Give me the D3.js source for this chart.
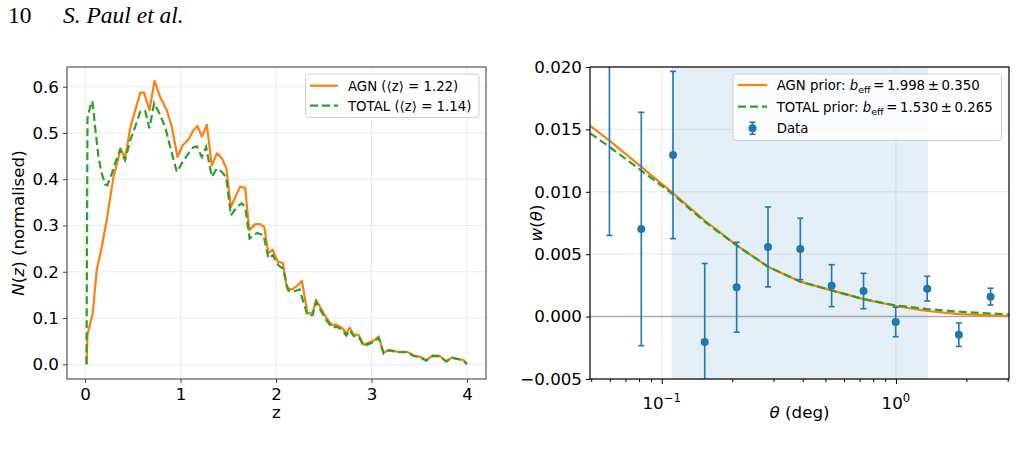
<!DOCTYPE html>
<html>
<head>
<meta charset="utf-8">
<script src="https://cdn.jsdelivr.net/npm/d3@7"></script>
<style>
  body { margin: 0; background: #fff; }
  text { font-family: "DejaVu Sans", sans-serif; }
</style>
</head>
<body>
<svg id="fig" width="1016" height="475"></svg>
<script>
// ---- left panel: redshift distributions ----
const zAgn = [0.015, 0.025, 0.08, 0.122, 0.175, 0.227, 0.297, 0.374, 0.419, 0.472, 0.577, 0.618, 0.674, 0.727,
  0.786, 0.856, 0.909, 0.968, 1.024, 1.083, 1.135, 1.177, 1.223, 1.275, 1.327, 1.38, 1.432, 1.478, 1.527, 1.583,
  1.625, 1.677, 1.72, 1.782, 1.834, 1.876, 1.92, 1.966, 2.016, 2.072, 2.113, 2.166, 2.219, 2.271, 2.33, 2.383,
  2.42, 2.48, 2.533, 2.585, 2.638, 2.69, 2.736, 2.77, 2.813, 2.866, 2.918, 2.97, 3.023, 3.075, 3.127, 3.18,
  3.232, 3.284, 3.372, 3.442, 3.51, 3.573, 3.643, 3.713, 3.783, 3.843, 3.913, 3.965, 4.0];
const nAgn = [0, 0.065, 0.11, 0.204, 0.254, 0.312, 0.405, 0.466, 0.445, 0.51, 0.587, 0.587, 0.549, 0.612,
  0.578, 0.549, 0.513, 0.448, 0.474, 0.486, 0.506, 0.515, 0.492, 0.518, 0.43, 0.456, 0.445, 0.425, 0.34, 0.366,
  0.384, 0.381, 0.29, 0.303, 0.303, 0.297, 0.24, 0.248, 0.222, 0.219, 0.164, 0.162, 0.169, 0.18, 0.11, 0.111,
  0.139, 0.117, 0.099, 0.085, 0.085, 0.079, 0.067, 0.079, 0.065, 0.063, 0.042, 0.047, 0.051, 0.06, 0.025, 0.031,
  0.029, 0.027, 0.027, 0.019, 0.016, 0.009, 0.019, 0.018, 0.006, 0.015, 0.011, 0.009, 0.0];

const zTot = [0.015, 0.025, 0.052, 0.077, 0.105, 0.14, 0.175, 0.21, 0.234, 0.28, 0.325, 0.367, 0.419, 0.472,
  0.524, 0.577, 0.629, 0.674, 0.723, 0.779, 0.839, 0.891, 0.961, 1.024, 1.083, 1.135, 1.17, 1.223, 1.268, 1.327,
  1.38, 1.432, 1.478, 1.527, 1.59, 1.64, 1.677, 1.723, 1.8, 1.87, 1.92, 1.966, 2.025, 2.072, 2.13, 2.183, 2.246,
  2.33, 2.383, 2.42, 2.48, 2.533, 2.585, 2.638, 2.69, 2.736, 2.77, 2.813, 2.866, 2.918, 2.97, 3.023, 3.075,
  3.127, 3.18, 3.232, 3.284, 3.372, 3.442, 3.51, 3.573, 3.643, 3.713, 3.783, 3.843, 3.913, 3.965, 4.0];
const nTot = [0, 0.531, 0.556, 0.569, 0.513, 0.448, 0.412, 0.389, 0.387, 0.412, 0.441, 0.464, 0.441, 0.484,
  0.513, 0.546, 0.548, 0.51, 0.564, 0.542, 0.513, 0.47, 0.416, 0.438, 0.456, 0.469, 0.471, 0.448, 0.47, 0.405,
  0.423, 0.416, 0.404, 0.322, 0.34, 0.348, 0.34, 0.272, 0.284, 0.279, 0.229, 0.236, 0.214, 0.207, 0.159, 0.157,
  0.162, 0.106, 0.106, 0.135, 0.112, 0.094, 0.08, 0.081, 0.075, 0.062, 0.074, 0.061, 0.06, 0.039, 0.044, 0.048,
  0.057, 0.023, 0.03, 0.028, 0.026, 0.026, 0.018, 0.015, 0.008, 0.018, 0.017, 0.006, 0.014, 0.011, 0.008, 0.0];

const zTicks = [0, 1, 2, 3, 4];
const nTicks = [0, 0.1, 0.2, 0.3, 0.4, 0.5, 0.6];

// ---- right panel: angular correlation ----
const theta = [0.0598, 0.0818, 0.1117, 0.1526, 0.2089, 0.2843, 0.3906, 0.5315, 0.7274, 0.998, 1.36, 1.857, 2.536];
const wData = [0.0245, 0.00702, 0.01295, -0.00204, 0.00235, 0.00558, 0.00542, 0.00248, 0.00205, -0.00043, 0.00224, -0.00145, 0.0016];
const wErr  = [0.018, 0.00935, 0.0067, 0.0063, 0.0036, 0.0032, 0.00246, 0.00168, 0.00142, 0.00118, 0.00099, 0.00094, 0.00067];

const thetaModel = [0.0494, 0.0598, 0.0818, 0.1117, 0.1526, 0.2089, 0.2843, 0.3906, 0.5315, 0.7274, 0.998, 1.36, 1.857, 2.536, 3.04];
const wAgn = [0.0153, 0.0141, 0.0120, 0.0099, 0.0077, 0.0057, 0.0040, 0.0028, 0.0021, 0.0014, 0.00085, 0.00045, 0.0002, 0.0001, 0.00005];
const wTot = [0.0147, 0.0136, 0.0117, 0.0098, 0.0076, 0.0057, 0.0040, 0.0028, 0.0021, 0.0014, 0.0009, 0.0006, 0.0004, 0.00025, 0.00018];

const fitRange = [0.11, 1.37];
const wTicks = [-0.005, 0, 0.005, 0.01, 0.015, 0.02];
const thetaMajor = [0.1, 1];

const orange = "#ff7f0e", green = "#2ca02c", blue = "#1f77b4";
const svg = d3.select("#fig");

// page header
svg.append("text").attr("x", 8).attr("y", 23)
    .style("font-family", "'Liberation Serif', serif").style("font-size", "23.5px").text("10");
svg.append("text").attr("x", 63).attr("y", 23)
    .style("font-family", "'Liberation Serif', serif").style("font-size", "23.5px").style("font-style", "italic")
    .text("S. Paul et al.");

// ================= left panel =================
const L = {x0: 67, x1: 486, y0: 67, y1: 379};
const x1 = d3.scaleLinear().domain([-0.1895, 4.1995]).range([L.x0, L.x1]);
const y1 = d3.scaleLinear().domain([-0.0318, 0.6426]).range([L.y1, L.y0]);

const gl = svg.append("g");
gl.append("clipPath").attr("id", "clipL").append("rect")
    .attr("x", L.x0).attr("y", L.y0).attr("width", L.x1 - L.x0).attr("height", L.y1 - L.y0);

// grid
gl.selectAll(".gx").data(zTicks).join("line")
    .attr("x1", d => x1(d)).attr("x2", d => x1(d)).attr("y1", L.y0).attr("y2", L.y1)
    .attr("stroke", "#ebebeb").attr("stroke-width", 1);
gl.selectAll(".gy").data(nTicks).join("line")
    .attr("x1", L.x0).attr("x2", L.x1).attr("y1", d => y1(d)).attr("y2", d => y1(d))
    .attr("stroke", "#ebebeb").attr("stroke-width", 1);

const lineL = d3.line().x(d => x1(d[0])).y(d => y1(d[1]));
gl.append("path").datum(d3.zip(zAgn, nAgn)).attr("d", lineL).attr("clip-path", "url(#clipL)")
    .attr("fill", "none").attr("stroke", orange).attr("stroke-width", 2.2).attr("stroke-linejoin", "round");
gl.append("path").datum(d3.zip(zTot, nTot)).attr("d", lineL).attr("clip-path", "url(#clipL)")
    .attr("fill", "none").attr("stroke", green).attr("stroke-width", 2.2).attr("stroke-dasharray", "8,4");

// axes
const axL = gl.append("g").attr("transform", `translate(${L.x0},0)`)
    .call(d3.axisLeft(y1).tickValues(nTicks).tickSize(4).tickPadding(4).tickFormat(d3.format(".1f")));
const axB = gl.append("g").attr("transform", `translate(0,${L.y1})`)
    .call(d3.axisBottom(x1).tickValues(zTicks).tickSize(4).tickPadding(5).tickFormat(d3.format("d")));
[axL, axB].forEach(a => {
  a.select(".domain").remove();
  a.selectAll("text").style("font-size", "16.7px").style("font-family", "'DejaVu Sans'").attr("fill", "#000");
  a.selectAll("line").attr("stroke", "#444");
});
gl.append("rect").attr("x", L.x0).attr("y", L.y0).attr("width", L.x1 - L.x0).attr("height", L.y1 - L.y0)
    .attr("fill", "none").attr("stroke", "#555").attr("stroke-width", 1.2);

gl.append("text").attr("x", (L.x0 + L.x1) / 2).attr("y", 418).attr("text-anchor", "middle")
    .style("font-size", "16.7px").text("z");
const yl = gl.append("text").attr("transform", `translate(24,${(L.y0 + L.y1) / 2}) rotate(-90)`)
    .attr("text-anchor", "middle").style("font-size", "16.7px");
yl.append("tspan").style("font-style", "italic").text("N");
yl.append("tspan").text("(");
yl.append("tspan").style("font-style", "italic").text("z");
yl.append("tspan").text(") (normalised)");

// legend
const lgL = gl.append("g");
lgL.append("rect").attr("x", 305.5).attr("y", 74).attr("width", 173.5).attr("height", 43.5).attr("rx", 3)
    .attr("fill", "#fff").attr("fill-opacity", 0.8).attr("stroke", "#d0d0d0");
[["AGN (⟨z⟩ = 1.22)", orange, null, 85.7], ["TOTAL (⟨z⟩ = 1.14)", green, "8,4", 105.7]].forEach(([t, c, dash, yy]) => {
  lgL.append("line").attr("x1", 310).attr("x2", 338).attr("y1", yy).attr("y2", yy)
      .attr("stroke", c).attr("stroke-width", 2.2).attr("stroke-dasharray", dash);
  lgL.append("text").attr("x", 348).attr("y", yy + 5).style("font-size", "13.3px").text(t);
});

// ================= right panel =================
const R = {x0: 590, x1: 1009, y0: 67, y1: 379};
const x2 = d3.scaleLog().domain([0.0494, 3.04]).range([R.x0, R.x1]);
const y2 = d3.scaleLinear().domain([-0.005, 0.02]).range([R.y1, R.y0]);

const gr = svg.append("g");
gr.append("clipPath").attr("id", "clipR").append("rect")
    .attr("x", R.x0).attr("y", R.y0).attr("width", R.x1 - R.x0).attr("height", R.y1 - R.y0);

// fit range shading
gr.append("rect").attr("x", x2(fitRange[0])).attr("y", R.y0)
    .attr("width", x2(fitRange[1]) - x2(fitRange[0])).attr("height", R.y1 - R.y0)
    .attr("fill", blue).attr("fill-opacity", 0.12);

// grid
gr.selectAll(".gx").data(thetaMajor).join("line")
    .attr("x1", d => x2(d)).attr("x2", d => x2(d)).attr("y1", R.y0).attr("y2", R.y1)
    .attr("stroke", "#b0b0b0").attr("stroke-opacity", 0.3).attr("stroke-width", 1);
gr.selectAll(".gy").data(wTicks).join("line")
    .attr("x1", R.x0).attr("x2", R.x1).attr("y1", d => y2(d)).attr("y2", d => y2(d))
    .attr("stroke", "#b0b0b0").attr("stroke-opacity", 0.3).attr("stroke-width", 1);

// zero line
gr.append("line").attr("x1", R.x0).attr("x2", R.x1).attr("y1", y2(0)).attr("y2", y2(0))
    .attr("stroke", "#808080").attr("stroke-opacity", 0.6).attr("stroke-width", 1.5);

// models
const lineR = d3.line().x(d => x2(d[0])).y(d => y2(d[1]));
gr.append("path").datum(d3.zip(thetaModel, wAgn)).attr("d", lineR).attr("clip-path", "url(#clipR)")
    .attr("fill", "none").attr("stroke", orange).attr("stroke-width", 2.2);
gr.append("path").datum(d3.zip(thetaModel, wTot)).attr("d", lineR).attr("clip-path", "url(#clipR)")
    .attr("fill", "none").attr("stroke", green).attr("stroke-width", 2.2).attr("stroke-dasharray", "8,4");

// data with error bars
const pts = gr.append("g").attr("clip-path", "url(#clipR)")
    .selectAll("g").data(d3.zip(theta, wData, wErr)).join("g");
pts.append("line").attr("x1", d => x2(d[0])).attr("x2", d => x2(d[0]))
    .attr("y1", d => y2(d[1] - d[2])).attr("y2", d => y2(d[1] + d[2]))
    .attr("stroke", blue).attr("stroke-width", 1.6);
pts.append("line").attr("x1", d => x2(d[0]) - 3).attr("x2", d => x2(d[0]) + 3)
    .attr("y1", d => y2(d[1] - d[2])).attr("y2", d => y2(d[1] - d[2]))
    .attr("stroke", blue).attr("stroke-width", 1.6);
pts.append("line").attr("x1", d => x2(d[0]) - 3).attr("x2", d => x2(d[0]) + 3)
    .attr("y1", d => y2(d[1] + d[2])).attr("y2", d => y2(d[1] + d[2]))
    .attr("stroke", blue).attr("stroke-width", 1.6);
pts.append("circle").attr("cx", d => x2(d[0])).attr("cy", d => y2(d[1])).attr("r", 4).attr("fill", blue);

// axes
const axR = gr.append("g").attr("transform", `translate(${R.x0},0)`)
    .call(d3.axisLeft(y2).tickValues(wTicks).tickSize(4).tickPadding(4).tickFormat(d3.format(".3f")));
const axRB = gr.append("g").attr("transform", `translate(0,${R.y1})`)
    .call(d3.axisBottom(x2).tickValues(thetaMajor).tickSize(5).tickFormat(""));
const minor = x2.ticks().filter(t => !thetaMajor.some(m => Math.abs(m - t) < 1e-9));
const axRm = gr.append("g").attr("transform", `translate(0,${R.y1})`)
    .call(d3.axisBottom(x2).tickValues(minor).tickSize(3).tickFormat(""));
[axR, axRB, axRm].forEach(a => {
  a.select(".domain").remove();
  a.selectAll("text").style("font-size", "16.7px").style("font-family", "'DejaVu Sans'").attr("fill", "#000");
  a.selectAll("line").attr("stroke", "#000");
});
thetaMajor.forEach(m => {
  const t = gr.append("text").attr("x", x2(m)).attr("y", 409).attr("text-anchor", "middle")
      .style("font-size", "16.7px");
  t.append("tspan").text("10");
  t.append("tspan").attr("dy", -7).style("font-size", "11.7px").text(m < 1 ? "−1" : "0");
});
gr.append("rect").attr("x", R.x0).attr("y", R.y0).attr("width", R.x1 - R.x0).attr("height", R.y1 - R.y0)
    .attr("fill", "none").attr("stroke", "#000").attr("stroke-width", 1.2);

const xl = gr.append("text").attr("x", (R.x0 + R.x1) / 2).attr("y", 418).attr("text-anchor", "middle")
    .style("font-size", "16.7px");
xl.append("tspan").style("font-style", "italic").text("θ");
xl.append("tspan").text(" (deg)");
const wl = gr.append("text").attr("transform", `translate(542,${(R.y0 + R.y1) / 2}) rotate(-90)`)
    .attr("text-anchor", "middle").style("font-size", "16.7px");
wl.append("tspan").style("font-style", "italic").text("w");
wl.append("tspan").text("(");
wl.append("tspan").style("font-style", "italic").text("θ");
wl.append("tspan").text(")");

// legend
const lgR = gr.append("g");
lgR.append("rect").attr("x", 733).attr("y", 74).attr("width", 268.5).attr("height", 66.5).attr("rx", 3)
    .attr("fill", "#fff").attr("fill-opacity", 0.8).attr("stroke", "#d0d0d0");
[["AGN prior: ", "1.998", "0.350", orange, null, 85], ["TOTAL prior: ", "1.530", "0.265", green, "8,4", 106.7]]
  .forEach(([lab, b, e, c, dash, yy]) => {
    lgR.append("line").attr("x1", 738).attr("x2", 767).attr("y1", yy).attr("y2", yy)
        .attr("stroke", c).attr("stroke-width", 2.2).attr("stroke-dasharray", dash);
    const t = lgR.append("text").attr("x", 776.7).attr("y", yy + 5).style("font-size", "13.3px");
    t.append("tspan").text(lab);
    t.append("tspan").style("font-style", "italic").text("b");
    t.append("tspan").attr("dy", 3).style("font-size", "9.5px").text("eff");
    t.append("tspan").attr("dy", -3).text(`\u2009=\u2009${b}\u2009±\u2009${e}`);
  });
const dy0 = 128.3, dx0 = 752.5;
lgR.append("line").attr("x1", dx0).attr("x2", dx0).attr("y1", dy0 - 6).attr("y2", dy0 + 6).attr("stroke", blue).attr("stroke-width", 1.6);
lgR.append("line").attr("x1", dx0 - 3).attr("x2", dx0 + 3).attr("y1", dy0 - 6).attr("y2", dy0 - 6).attr("stroke", blue).attr("stroke-width", 1.6);
lgR.append("line").attr("x1", dx0 - 3).attr("x2", dx0 + 3).attr("y1", dy0 + 6).attr("y2", dy0 + 6).attr("stroke", blue).attr("stroke-width", 1.6);
lgR.append("circle").attr("cx", dx0).attr("cy", dy0).attr("r", 4).attr("fill", blue);
lgR.append("text").attr("x", 776.7).attr("y", dy0 + 5).style("font-size", "13.3px").text("Data");
</script>
</body>
</html>
